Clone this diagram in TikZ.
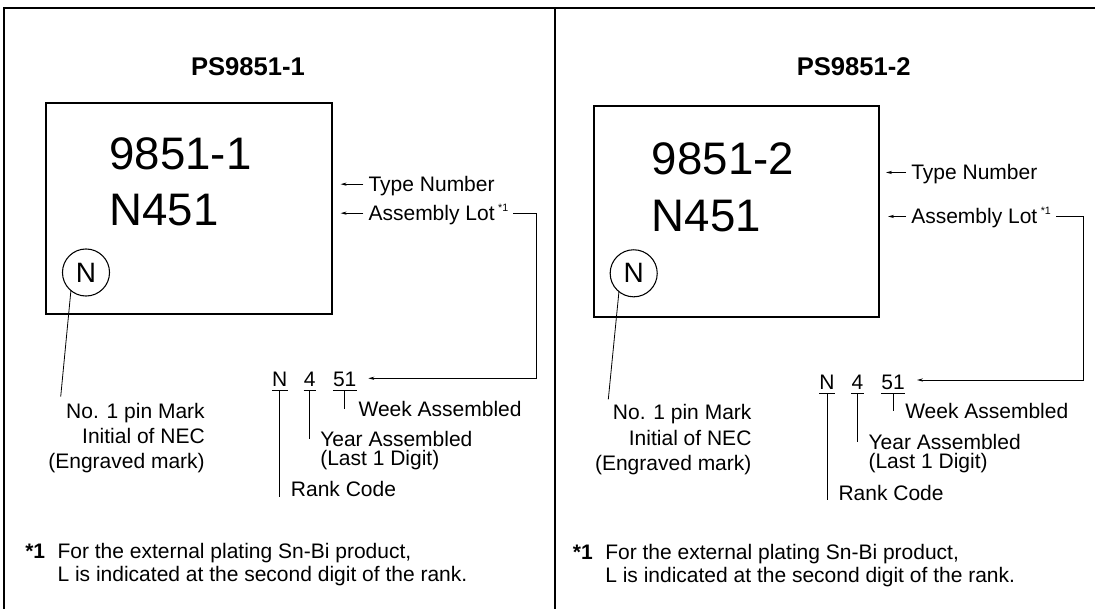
\documentclass[tikz,border=0pt]{standalone}
\usepackage{fontspec}
\setmainfont{Liberation Sans}
\usetikzlibrary{arrows.meta,positioning}

\begin{document}
\begin{tikzpicture}[x=0.75pt,y=-0.75pt]
	\tikzstyle{Frame}	= [line width=0.8pt]
	\tikzstyle{Chip}	= [line width=1.5pt]
	\tikzstyle{Title}	= [anchor=base, inner sep=0pt, font=\fontsize{19.2}{23}\selectfont\bfseries]
	\tikzstyle{Marking}	= [anchor=base west, inner sep=0pt, font=\fontsize{34.2}{40}\selectfont]
	\tikzstyle{Pin}		= [circle, draw, line width=0.8pt, minimum size=35.3pt, inner sep=0pt, font=\fontsize{21}{25}\selectfont]
	\tikzstyle{Label}	= [inner sep=0pt, text height=11.3pt, text depth=0pt, font=\fontsize{15.75}{19}\selectfont]
	\tikzstyle{Digit}	= [Label, anchor=base, inner ysep=3pt]
	\tikzstyle{Lead}	= [line width=0.6pt]
	\tikzstyle{Pointer}	= [line width=0.6pt, -{Stealth[length=4.5pt, width=2.4pt]}]
	\newcommand{\note}{\,\raisebox{7pt}{\fontsize{8}{8}\selectfont *1}}

	\useasboundingbox (0,0) rectangle (1095,609);

	% frame
	\draw [Frame] (1095,8) -- (4,8) -- (4,609);
	\draw [Frame] (555,8) -- (555,609);

	% PS9851-1
	\node (ttl1) at (248,76) [Title] {PS9851-1};
	\draw [Chip] (46,103.3) rectangle (331.7,314);
	\node (mka1) at (109.3,169.5) [Marking] {9851-1};
	\node (mkb1) at (109.3,226) [Marking] {N451};
	\node (pin1) at (86,272.5) [Pin] {N};

	\node (tn1) at (363.3,191.7) [Label, anchor=base west, inner xsep=3.75pt] {Type Number};
	\node (al1) at (363.3,220.7) [Label, anchor=base west, inner xsep=3.75pt] {Assembly Lot\note};
	\coordinate (tnTip1) at ([xshift=-17pt]tn1.west);
	\coordinate (alTip1) at ([xshift=-17pt]al1.west);
	\coordinate (bend1) at (536.7,378.3);
	\coordinate (lotTip1) at (368.3,378.3);

	\node (dN1) at (279.7,386) [Digit] {N};
	\node (d41) at (309.7,386) [Digit] {4};
	\node (d511) at (344.7,386) [Digit] {51};
	\node (wk1) at (358.3,416.7) [Label, anchor=base west] {Week Assembled};
	\node (yr1) at (320,446.7) [Label, anchor=base west] {Year Assembled};
	\node (dg1) at (320,465.7) [Label, anchor=base west] {(Last 1 Digit)};
	\node (rk1) at (290.7,496.7) [Label, anchor=base west] {Rank Code};

	\node (pm1) at (205,418.3) [Label, anchor=base east] {No. 1 pin Mark};
	\node (ne1) at (205,443.3) [Label, anchor=base east] {Initial of NEC};
	\node (en1) at (205,468.3) [Label, anchor=base east] {(Engraved mark)};
	\coordinate (pinEnd1) at (60.7,396.7);

	\node (fs1) at (25,558.3) [Label, anchor=base west] {\bfseries *1};
	\node (fa1) at (57.3,558.3) [Label, anchor=base west] {For the external plating Sn-Bi product,};
	\node (fb1) at (57.3,581.7) [Label, anchor=base west] {L is indicated at the second digit of the rank.};

	\draw [Pointer] (tn1.west) -- (tnTip1);
	\draw [Pointer] (al1.west) -- (alTip1);
	\draw [Pointer] (al1.east) -| (bend1) -- (lotTip1);
	\draw [Lead] (pin1.231) -- (pinEnd1);
	\draw [Lead] (dN1.south west) -- (dN1.south east);
	\draw [Lead] (d41.south west) -- (d41.south east);
	\draw [Lead] (d511.south west) -- (d511.south east);
	\draw [Lead] (dN1.south) -- (dN1.south |- rk1.south);
	\draw [Lead] (d41.south) -- (d41.south |- yr1.west);
	\draw [Lead] (d511.south) -- (d511.south |- wk1.west);

	% PS9851-2
	\node (ttl2) at (853.7,76) [Title] {PS9851-2};
	\draw [Chip] (594,106) rectangle (879.3,316.7);
	\node (mka2) at (651.7,174.5) [Marking] {9851-2};
	\node (mkb2) at (651.7,232) [Marking] {N451};
	\node (pin2) at (633.7,273.3) [Pin] {N};

	\node (tn2) at (906,180) [Label, anchor=base west, inner xsep=3.75pt] {Type Number};
	\node (al2) at (906,224) [Label, anchor=base west, inner xsep=3.75pt] {Assembly Lot\note};
	\coordinate (tnTip2) at ([xshift=-15pt]tn2.west);
	\coordinate (alTip2) at ([xshift=-13.5pt]al2.west);
	\coordinate (bend2) at (1083.3,380);
	\coordinate (lotTip2) at (917,380);

	\node (dN2) at (827,389.3) [Digit] {N};
	\node (d42) at (857.5,389.3) [Digit] {4};
	\node (d512) at (893,389.3) [Digit] {51};
	\node (wk2) at (905,418.3) [Label, anchor=base west] {Week Assembled};
	\node (yr2) at (868.3,449.3) [Label, anchor=base west] {Year Assembled};
	\node (dg2) at (868.3,468.5) [Label, anchor=base west] {(Last 1 Digit)};
	\node (rk2) at (838.3,500) [Label, anchor=base west] {Rank Code};

	\node (pm2) at (751.7,419.3) [Label, anchor=base east] {No. 1 pin Mark};
	\node (ne2) at (751.7,445) [Label, anchor=base east] {Initial of NEC};
	\node (en2) at (751.7,470) [Label, anchor=base east] {(Engraved mark)};
	\coordinate (pinEnd2) at (608.3,399.3);

	\node (fs2) at (572.7,559.3) [Label, anchor=base west] {\bfseries *1};
	\node (fa2) at (605,559.3) [Label, anchor=base west] {For the external plating Sn-Bi product,};
	\node (fb2) at (605,582.7) [Label, anchor=base west] {L is indicated at the second digit of the rank.};

	\draw [Pointer] (tn2.west) -- (tnTip2);
	\draw [Pointer] (al2.west) -- (alTip2);
	\draw [Pointer] (al2.east) -| (bend2) -- (lotTip2);
	\draw [Lead] (pin2.232) -- (pinEnd2);
	\draw [Lead] (dN2.south west) -- (dN2.south east);
	\draw [Lead] (d42.south west) -- (d42.south east);
	\draw [Lead] (d512.south west) -- (d512.south east);
	\draw [Lead] (dN2.south) -- (dN2.south |- rk2.south);
	\draw [Lead] (d42.south) -- (d42.south |- yr2.west);
	\draw [Lead] (d512.south) -- (d512.south |- wk2.west);
\end{tikzpicture}
\end{document}
